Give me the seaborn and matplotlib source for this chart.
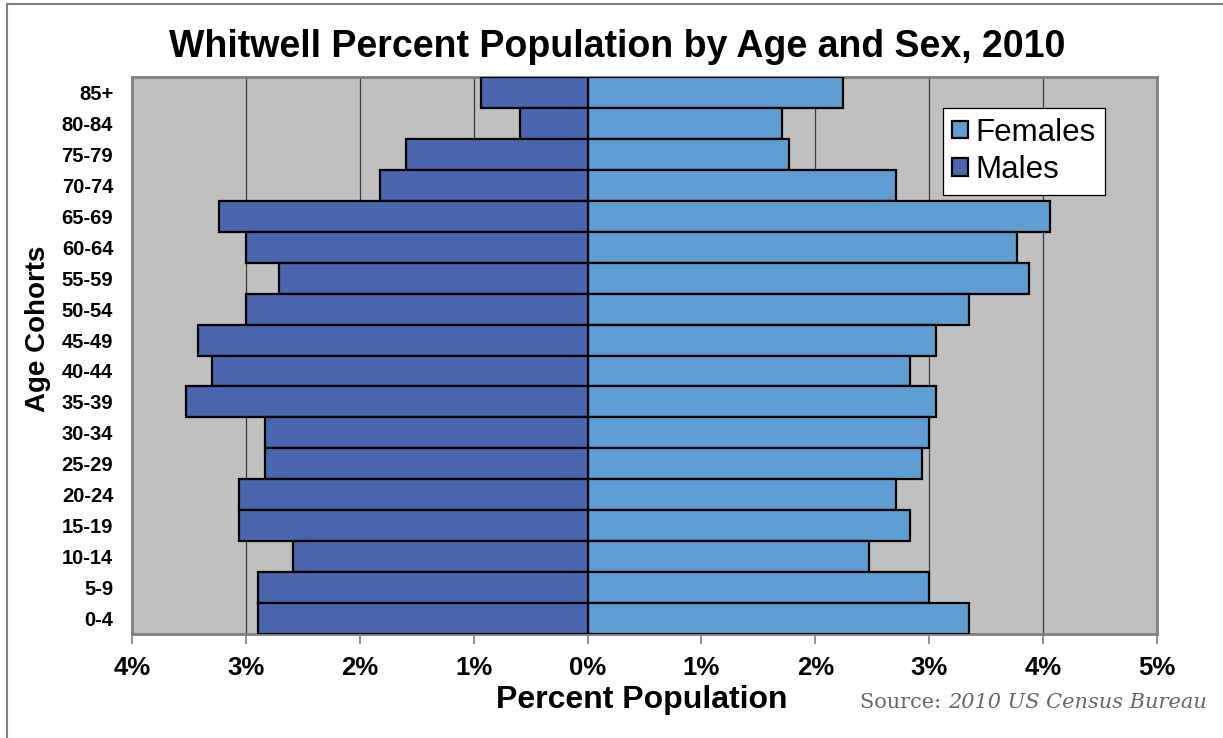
import matplotlib
matplotlib.use("Agg")
import matplotlib.pyplot as plt
import seaborn as sns
import pandas as pd
from matplotlib.lines import Line2D
from matplotlib.ticker import FixedLocator, FuncFormatter

# ---- data ----
age_groups = ["85+", "80-84", "75-79", "70-74", "65-69", "60-64", "55-59",
              "50-54", "45-49", "40-44", "35-39", "30-34", "25-29", "20-24",
              "15-19", "10-14", "5-9", "0-4"]
males = [0.94, 0.59, 1.59, 1.82, 3.24, 3.00, 2.71, 3.00, 3.42, 3.30, 3.53,
         2.83, 2.83, 3.06, 3.06, 2.59, 2.89, 2.89]
females = [2.24, 1.71, 1.77, 2.71, 4.06, 3.77, 3.88, 3.35, 3.06, 2.83, 3.06,
           3.00, 2.94, 2.71, 2.83, 2.47, 3.00, 3.35]
x_ticks = [-4, -3, -2, -1, 0, 1, 2, 3, 4, 5]
title = "Whitwell Percent Population by Age and Sex, 2010"

df = pd.DataFrame({
    "age": age_groups * 2,
    "pct": [-m for m in males] + females,
    "sex": ["Males"] * len(males) + ["Females"] * len(females),
})

sns.set_theme(style="white")
plt.rcParams["font.family"] = ["Liberation Sans", "DejaVu Sans"]
plt.rcParams["text.color"] = "black"
plt.rcParams["xtick.labelcolor"] = "black"
plt.rcParams["ytick.labelcolor"] = "black"

W, H = 1223, 738
fig = plt.figure(figsize=(W / 100, H / 100), dpi=100)
fig.patch.set_facecolor("white")

L, R, T, B = 132, 1157, 77, 634
ax = fig.add_axes([L / W, 1 - B / H, (R - L) / W, (B - T) / H])
ax.set_facecolor("#C0C0C0")

palette = {"Females": "#5F9ED2", "Males": "#4A66AE"}
sns.barplot(data=df, x="pct", y="age", hue="sex", order=age_groups,
            hue_order=["Females", "Males"], palette=palette, dodge=False,
            width=1.0, orient="h", edgecolor="black", linewidth=1.6,
            saturation=1, ax=ax, zorder=3)

ax.set_xlim(-4, 5)
ax.set_ylim(len(age_groups) - 0.5, -0.5)

for v in x_ticks:
    ax.axvline(v, color="#3a3a3a", lw=0.9, zorder=1)

ax.xaxis.set_major_locator(FixedLocator(x_ticks))
ax.xaxis.set_major_formatter(FuncFormatter(lambda v, p: f"{abs(int(round(v)))}%"))
ax.tick_params(axis="x", bottom=True, length=7, width=1.2, color="#808080",
               labelcolor="black", direction="out", pad=9, labelsize=18.5)
for lab in ax.get_xticklabels():
    lab.set_fontweight("bold")
ax.tick_params(axis="y", left=False, length=0, pad=13.5, labelcolor="black")
for lab in ax.get_yticklabels():
    lab.set_fontweight("bold")
    lab.set_fontsize(14.5)

ax.set_xlabel("")
ax.set_ylabel("")
for s in ax.spines.values():
    s.set_visible(True)
    s.set_color("#808080")
    s.set_linewidth(2)

handles, labels = ax.get_legend_handles_labels()
leg = ax.legend(handles, labels, loc="upper left", bbox_to_anchor=(0.791, 0.944),
                borderaxespad=0, frameon=True, fancybox=False, shadow=False,
                framealpha=1, edgecolor="black", fontsize=22.5,
                handlelength=0.5, handleheight=0.5, handletextpad=0.25,
                labelspacing=0.25, borderpad=0.3, labelcolor="black")
leg.get_frame().set_linewidth(0.9)
leg.set_zorder(10)

fig.text(617 / W, 1 - 47 / H, title, ha="center", va="center",
         fontsize=27, fontweight="bold", color="black")
fig.text(38 / W, 1 - 329 / H, "Age Cohorts", ha="center", va="center",
         rotation=90, fontsize=20, fontweight="bold", color="black")
fig.text(642 / W, 1 - 700 / H, "Percent Population", ha="center", va="center",
         fontsize=23, fontweight="bold", color="black")

serif = ["DejaVu Serif Condensed", "DejaVu Serif"]
t1 = fig.text(860 / W, 1 - 703 / H, "Source: ", ha="left", va="center",
              fontsize=15, color="#666666", family=serif)
fig.canvas.draw()
bb = t1.get_window_extent()
fig.text(bb.x1 / W, 1 - 703 / H, "2010 US Census Bureau", ha="left", va="center",
         fontsize=15, color="#666666", family=serif, style="italic")

# figure frame (left and top edges visible)
fig.add_artist(Line2D([7 / W, 7 / W], [0, 1 - 4 / H], transform=fig.transFigure,
                      color="#808080", lw=1.5))
fig.add_artist(Line2D([7 / W, 1], [1 - 4 / H, 1 - 4 / H], transform=fig.transFigure,
                      color="#808080", lw=1.5))

fig.savefig("out.png", dpi=100)
